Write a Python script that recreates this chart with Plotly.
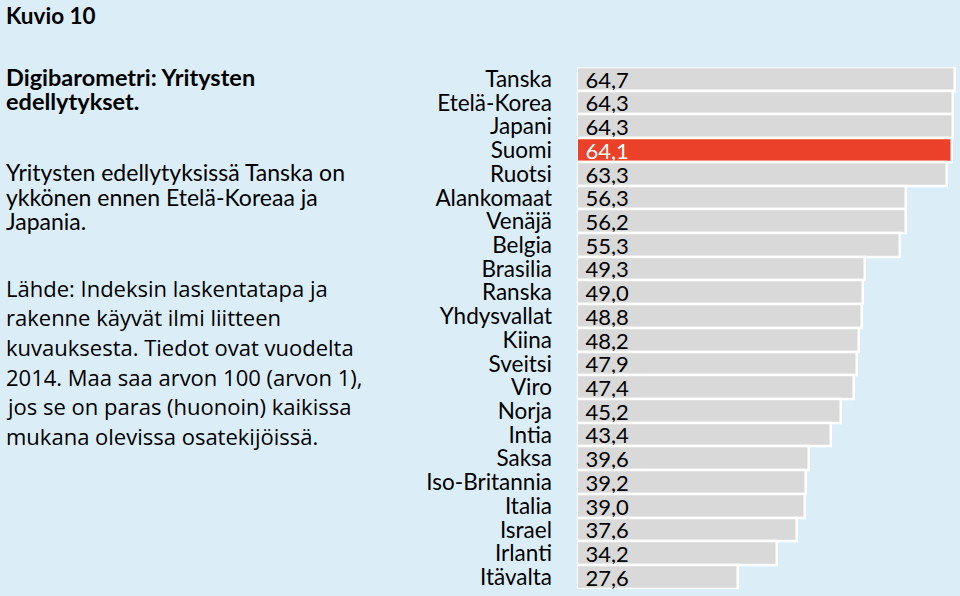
import plotly.graph_objects as go

countries = ["Tanska", "Etelä-Korea", "Japani", "Suomi", "Ruotsi", "Alankomaat", "Venäjä",
             "Belgia", "Brasilia", "Ranska", "Yhdysvallat", "Kiina", "Sveitsi", "Viro",
             "Norja", "Intia", "Saksa", "Iso-Britannia", "Italia", "Israel", "Irlanti", "Itävalta"]
values = [64.7, 64.3, 64.3, 64.1, 63.3, 56.3, 56.2, 55.3, 49.3, 49.0, 48.8, 48.2, 47.9, 47.4,
          45.2, 43.4, 39.6, 39.2, 39.0, 37.6, 34.2, 27.6]
highlight = "Suomi"

title_top = "Kuvio 10"
title_lines = ["Digibarometri: Yritysten", "edellytykset."]
para1_lines = ["Yritysten edellytyksissä Tanska on", "ykkönen ennen Etelä-Koreaa ja", "Japania."]
para2_lines = ["Lähde: Indeksin laskentatapa ja", "rakenne käyvät ilmi liitteen",
               "kuvauksesta. Tiedot ovat vuodelta", "2014. Maa saa arvon 100 (arvon 1),",
               "jos se on paras (huonoin) kaikissa", "mukana olevissa osatekijöissä."]

BG = "#dbeef8"
GREY = "#d9d9d9"
RED = "#eb4128"
W, H = 960, 596

colors = [RED if c == highlight else GREY for c in countries]
text_colors = ["white" if c == highlight else "black" for c in countries]
labels = [" " + f"{v:.1f}".replace(".", ",") for v in values]

fig = go.Figure(go.Bar(
    x=values, y=countries, orientation="h",
    marker=dict(color=colors, line=dict(color="white", width=2.5)),
    text=labels, textposition="inside", insidetextanchor="start",
    textfont=dict(family="Lato", size=22, color=text_colors),
    constraintext="none", hoverinfo="skip",
))

fig.update_layout(
    width=W, height=H, paper_bgcolor=BG, plot_bgcolor=BG,
    margin=dict(l=0, r=0, t=0, b=0), bargap=0, showlegend=False,
    xaxis=dict(domain=[577 / W, 957 / W], range=[0, 65.0], visible=False, fixedrange=True),
    yaxis=dict(domain=[1 - 590 / H, 1 - 65.6 / H], autorange="reversed",
               tickmode="array", tickvals=countries, ticktext=countries,
               showgrid=False, showline=False, zeroline=False, ticks="",
               ticklabelstandoff=24, fixedrange=True,
               tickfont=dict(family="Lato", size=22.5, color="black")),
)

def add_line(text, ypx, size, family, bold=False):
    fig.add_annotation(
        x=4 / W, y=1 - ypx / H, xref="paper", yref="paper", xanchor="left", yanchor="middle",
        text=f"<b>{text}</b>" if bold else text, showarrow=False,
        font=dict(family=family, size=size, color="black"))

add_line(title_top, 14, 22.5, "Lato", bold=True)
for i, t in enumerate(title_lines):
    add_line(t, 75 + 25 * i, 23.5, "Lato", bold=True)
for i, t in enumerate(para1_lines):
    add_line(t, 171 + 24.5 * i, 23, "Lato")
for i, t in enumerate(para2_lines):
    add_line(t, 287 + 29.8 * i, 22, "Open Sans")

fig.write_html("out.html", config={"displayModeBar": False},
               post_script="document.body.style.margin='0';")
